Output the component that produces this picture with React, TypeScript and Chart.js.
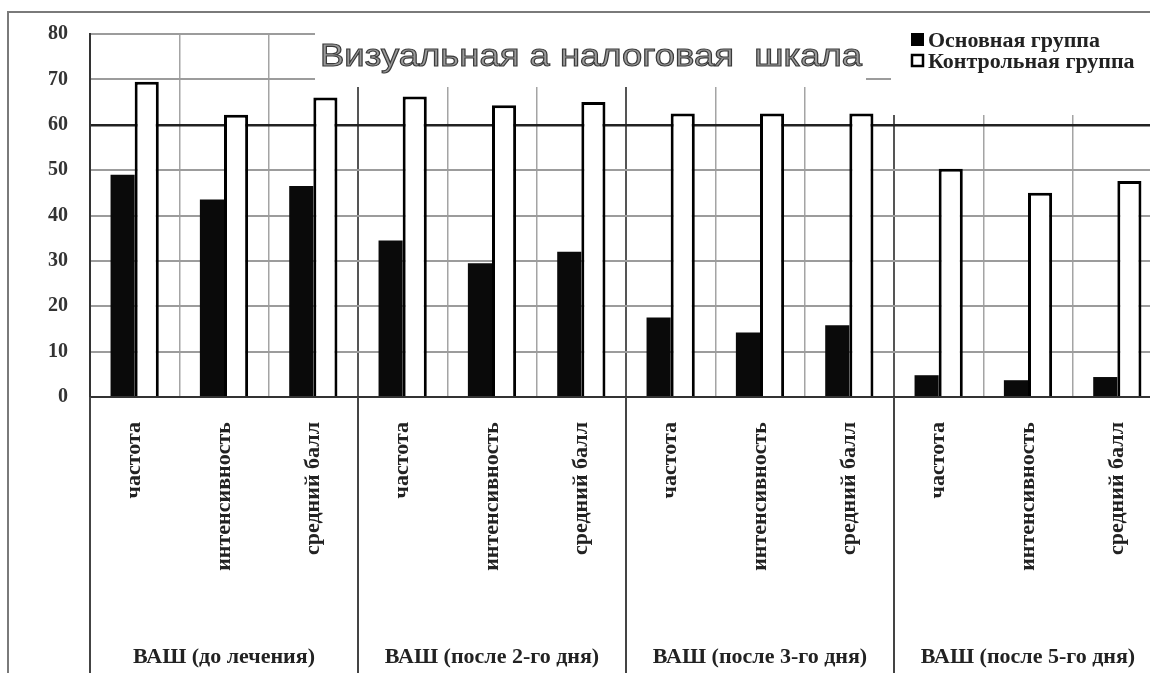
import { useEffect, useRef } from "react";
import { Chart, registerables } from "chart.js";

Chart.register(...registerables);

// Categories (three measures per assessment point)
const categories = [
  "частота", "интенсивность", "средний балл",
  "частота", "интенсивность", "средний балл",
  "частота", "интенсивность", "средний балл",
  "частота", "интенсивность", "средний балл",
];

// Assessment points, one per block of three categories
const groupLabels = [
  "ВАШ (до лечения)",
  "ВАШ (после 2-го дня)",
  "ВАШ (после 3-го дня)",
  "ВАШ (после 5-го дня)",
];

const seriesNames = ["Основная группа", "Контрольная группа"];

const mainGroup = [49, 43.5, 46.5, 34.5, 29.5, 32, 17.5, 14.2, 15.8, 4.8, 3.7, 4.4];
const controlGroup = [69.5, 62.2, 66, 66.2, 64.3, 65, 62.5, 62.5, 62.5, 50.3, 45, 47.6];

const yMin = 0;
const yMax = 80;
const yStep = 10;

const chartTitle = "Визуальная а налоговая  шкала";

const CANVAS_W = 1170;
const CANVAS_H = 673;

const serif = "'Liberation Serif', 'DejaVu Serif', serif";
const sans = "'Liberation Sans', Arial, sans-serif";

const framePlugin = {
  id: "frame",
  beforeDraw(chart: any) {
    const { ctx } = chart;
    ctx.save();
    ctx.fillStyle = "#ffffff";
    ctx.fillRect(0, 0, chart.width, chart.height);
    ctx.strokeStyle = "#7a7a7a";
    ctx.lineWidth = 2;
    ctx.strokeRect(8, 12, chart.width + 50, chart.height + 50);
    ctx.restore();
  },
  beforeDatasetsDraw(chart: any) {
    const { ctx } = chart;
    ctx.save();
    ctx.fillStyle = "#ffffff";
    // backdrop behind the title
    ctx.fillRect(315, 14, 551, 73);
    // backdrop behind the legend
    ctx.fillRect(866, 14, chart.width, 56);
    ctx.fillRect(891, 14, chart.width, 101);
    ctx.restore();
  },
  afterDraw(chart: any) {
    const { ctx } = chart;
    const xs = chart.scales.x;
    const area = chart.chartArea;
    const catW = xs.width / categories.length;
    ctx.save();

    // vertical separators of the assessment blocks below the axis
    ctx.strokeStyle = "#444";
    ctx.lineWidth = 2;
    for (let g = 0; g <= groupLabels.length; g++) {
      const x = xs.left + g * 3 * catW;
      ctx.beginPath();
      ctx.moveTo(x, area.bottom);
      ctx.lineTo(x, chart.height);
      ctx.stroke();
    }

    // block labels
    ctx.font = `bold 20px ${serif}`;
    ctx.fillStyle = "#222";
    ctx.textBaseline = "alphabetic";
    ctx.textAlign = "center";
    const refW = ctx.measureText(groupLabels[0]).width;
    const sx = 182 / refW;
    groupLabels.forEach((label, g) => {
      const cx = xs.left + (g * 3 + 1.5) * catW;
      ctx.save();
      ctx.translate(cx, 663);
      ctx.scale(sx, 1);
      ctx.fillText(label, 0, 0);
      ctx.restore();
    });

    // title
    ctx.font = `32px ${sans}`;
    ctx.textAlign = "left";
    const tw = ctx.measureText(chartTitle).width;
    ctx.save();
    ctx.translate(320, 66);
    ctx.scale(542 / tw, 1);
    ctx.fillStyle = "#9a9a9a";
    ctx.fillText(chartTitle, 0, 0);
    ctx.strokeStyle = "#3a3a3a";
    ctx.lineWidth = 1.1;
    ctx.strokeText(chartTitle, 0, 0);
    ctx.restore();

    // legend
    ctx.font = `bold 20px ${serif}`;
    const lw = ctx.measureText(seriesNames[0]).width;
    const lsx = 172 / lw;
    chart.data.datasets.forEach((ds: any, i: number) => {
      const y = 47 + i * 21;
      if (i === 0) {
        ctx.fillStyle = "#000";
        ctx.fillRect(911, y - 14, 13, 13);
      } else {
        ctx.fillStyle = "#fff";
        ctx.fillRect(911, y - 14, 13, 13);
        ctx.strokeStyle = "#000";
        ctx.lineWidth = 2.5;
        ctx.strokeRect(912, y - 13, 11, 11);
      }
      ctx.save();
      ctx.translate(928, y);
      ctx.scale(lsx, 1);
      ctx.fillStyle = "#222";
      ctx.fillText(ds.label, 0, 0);
      ctx.restore();
    });

    ctx.restore();
  },
};

export default function App() {
  const canvasRef = useRef<HTMLCanvasElement | null>(null);

  useEffect(() => {
    const canvas = canvasRef.current;
    if (!canvas) return;
    const chart = new Chart(canvas, {
      type: "bar",
      data: {
        labels: categories,
        datasets: [
          {
            label: seriesNames[0],
            data: mainGroup,
            backgroundColor: "#0a0a0a",
            borderColor: "#000",
            borderWidth: 0,
          },
          {
            label: seriesNames[1],
            data: controlGroup,
            backgroundColor: "#ffffff",
            borderColor: "#000",
            borderWidth: 3,
          },
        ],
      },
      options: {
        animation: false,
        responsive: false,
        devicePixelRatio: 1,
        layout: { padding: { left: 0, top: 28, right: 8, bottom: 0 } },
        datasets: {
          bar: { categoryPercentage: 0.54, barPercentage: 1 },
        },
        plugins: {
          legend: { display: false },
          title: { display: false },
          tooltip: { enabled: false },
        },
        scales: {
          x: {
            grid: {
              offset: true,
              drawTicks: false,
              color: (c: any) => ((c.index ?? 0) % 3 === 0 ? "#555" : "#a4a4a4"),
              lineWidth: (c: any) => ((c.index ?? 0) % 3 === 0 ? 2 : 1.5),
            },
            border: { display: true, color: "#333", width: 2 },
            ticks: {
              autoSkip: false,
              minRotation: 90,
              maxRotation: 90,
              padding: 25,
              color: "#222",
              font: { family: serif, size: 22, weight: "bold" },
            },
            afterFit: (scale: any) => {
              scale.height = 276;
            },
          },
          y: {
            min: yMin,
            max: yMax,
            ticks: {
              stepSize: yStep,
              padding: 22,
              color: "#333",
              font: { family: serif, size: 20, weight: "bold" },
            },
            grid: {
              drawTicks: false,
              color: (c: any) => (c.tick && c.tick.value === 60 ? "#222" : "#9c9c9c"),
              lineWidth: (c: any) => (c.tick && c.tick.value === 60 ? 2.5 : 2),
            },
            border: { display: true, color: "#333", width: 2 },
            afterFit: (scale: any) => {
              scale.width = 90;
            },
          },
        },
      },
      plugins: [framePlugin],
    });
    return () => chart.destroy();
  }, []);

  return (
    <div
      style={{
        position: "absolute",
        left: 0,
        top: 0,
        width: 1150,
        height: 673,
        overflow: "hidden",
        background: "#fff",
      }}
    >
      <canvas
        ref={canvasRef}
        width={CANVAS_W}
        height={CANVAS_H}
        style={{ width: CANVAS_W, height: CANVAS_H, display: "block" }}
      />
    </div>
  );
}
